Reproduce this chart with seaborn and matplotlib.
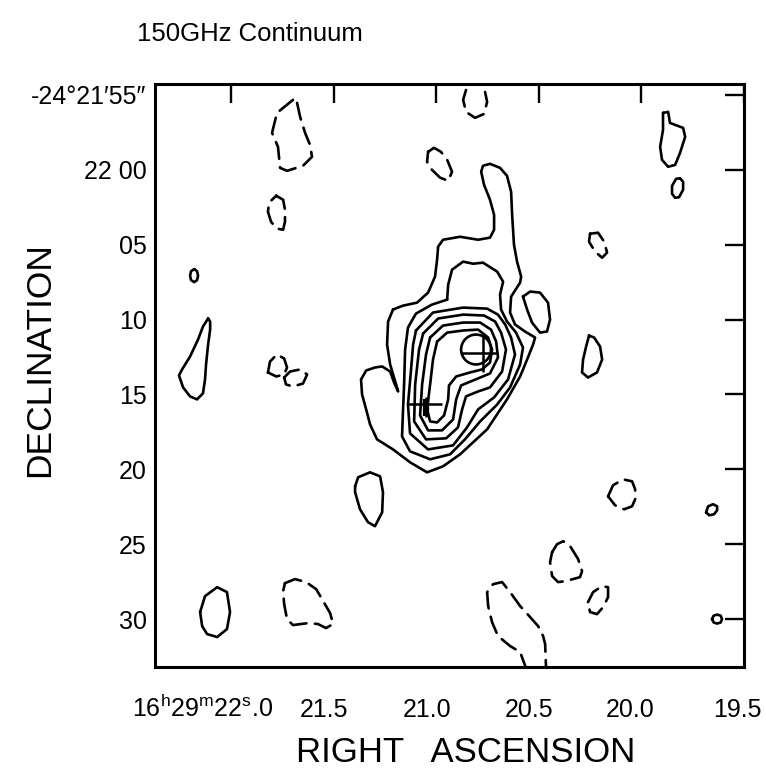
import matplotlib
matplotlib.use("Agg")
import matplotlib.pyplot as plt
from matplotlib.transforms import ScaledTranslation
import seaborn as sns

# ---------------- data (RA in seconds of 16h29m, Dec in arcsec of -24d21'/22') --------
# x tick values / labels
xtick_vals = [22.0, 21.5, 21.0, 20.5, 20.0, 19.5]
xtick_labels = [r"16$^{\mathrm{h}}$29$^{\mathrm{m}}$22$^{\mathrm{s}}$.0",
                "21.5", "21.0", "20.5", "20.0", "19.5"]
ytick_vals = [55, 60, 65, 70, 75, 80, 85, 90]
ytick_labels = ["-24°21′55″", "22 00", "05", "10", "15", "20", "25", "30"]

# central source, positive contour levels (outer -> inner)
L1_ra = [21.210, 21.234, 21.239, 21.224, 21.195, 21.185, 21.205, 21.224, 21.263, 21.298,
         21.341, 21.366, 21.361, 21.341, 21.322, 21.288, 21.210, 21.127, 21.044, 20.966,
         20.883, 20.751, 20.654, 20.590, 20.556, 20.527, 20.517, 20.566, 20.615, 20.639,
         20.634, 20.590, 20.585, 20.605, 20.620, 20.629, 20.634, 20.654, 20.688, 20.737,
         20.771, 20.780, 20.766, 20.737, 20.717, 20.717, 20.737, 20.795, 20.883, 20.966,
         20.990, 20.995, 21.005, 21.039, 21.093, 21.161, 21.210]
L1_dec = [69.33, 70.13, 71.67, 73.0, 74.33, 74.8, 74.2, 73.47, 73.13, 73.2,
          73.4, 74.0, 75.0, 76.0, 77.0, 78.0, 78.67, 79.53, 80.2, 79.8,
          79.0, 77.33, 75.33, 73.8, 72.67, 71.67, 71.2, 70.8, 70.33, 69.53,
          68.47, 67.53, 67.13, 66.13, 65.0, 63.0, 61.47, 60.4, 59.87, 59.6,
          59.73, 60.13, 61.0, 62.0, 63.0, 64.0, 64.53, 64.67, 64.47, 64.67,
          65.13, 66.0, 67.13, 68.2, 68.87, 69.07, 69.33]
L2_ra = [20.946, 20.941, 20.922, 20.868, 20.820, 20.771, 20.702, 20.673, 20.688, 20.683,
         20.654, 20.610, 20.576, 20.590, 20.639, 20.702, 20.785, 20.859, 20.932, 21.029,
         21.127, 21.166, 21.161, 21.156, 21.151, 21.137, 21.098, 21.020, 20.946]
L2_dec = [68.67, 67.67, 66.67, 66.13, 66.27, 66.2, 66.8, 67.47, 68.33, 69.33,
          70.13, 70.87, 71.87, 73.0, 74.53, 75.67, 76.8, 78.0, 79.0, 79.33,
          78.8, 77.8, 76.0, 74.33, 72.0, 70.53, 69.6, 69.0, 68.67]
L3_ra = [21.098, 21.015, 20.868, 20.751, 20.698, 20.663, 20.634, 20.615, 20.649, 20.717,
         20.795, 20.849, 20.917, 21.039, 21.127, 21.137, 21.122, 21.112, 21.098]
L3_dec = [70.73, 69.53, 69.2, 69.27, 69.67, 70.33, 71.2, 72.33, 74.0, 75.2,
          76.0, 77.2, 78.4, 78.67, 77.6, 75.67, 73.33, 71.67, 70.73]
L4_ra = [21.063, 20.990, 20.868, 20.766, 20.712, 20.683, 20.659, 20.678, 20.737, 20.795,
         20.854, 20.873, 20.893, 20.951, 21.049, 21.107, 21.102, 21.083, 21.063]
L4_dec = [70.93, 69.93, 69.67, 69.73, 70.13, 70.87, 72.0, 73.47, 74.53, 74.8,
          75.13, 76.0, 77.2, 77.93, 78.0, 76.8, 74.33, 72.0, 70.93]
L5_ra = [21.029, 20.966, 20.868, 20.785, 20.732, 20.707, 20.698, 20.737, 20.820, 20.878,
         20.902, 20.917, 20.971, 21.039, 21.078, 21.068, 21.049, 21.029]
L5_dec = [71.2, 70.4, 70.2, 70.2, 70.67, 71.47, 72.53, 73.6, 74.07, 74.4,
          75.33, 76.67, 77.4, 77.4, 76.4, 74.33, 72.33, 71.2]
L6_ra = [20.995, 20.946, 20.868, 20.795, 20.746, 20.727, 20.737, 20.776, 20.834, 20.902,
         20.937, 20.941, 20.961, 20.995, 21.029, 21.044, 21.029, 21.015, 20.995]
L6_dec = [71.47, 70.87, 70.73, 70.67, 71.2, 72.0, 72.87, 73.33, 73.53, 73.8,
          74.4, 75.33, 76.4, 76.87, 76.8, 76.0, 74.33, 72.67, 71.47]

# other positive (solid) contours
S1_ra = [22.180, 22.166, 22.161, 22.166, 22.180, 22.195, 22.200, 22.195, 22.180]
S1_dec = [66.63, 66.77, 67.07, 67.37, 67.5, 67.37, 67.07, 66.77, 66.63]
S2_ra = [22.112, 22.137, 22.161, 22.200, 22.239, 22.254, 22.234, 22.200, 22.166, 22.137,
         22.127, 22.122, 22.112, 22.102, 22.102, 22.112]
S2_dec = [69.93, 70.47, 71.33, 72.47, 73.33, 73.73, 74.53, 75.13, 75.33, 74.93,
          74.0, 73.0, 71.67, 70.67, 70.13, 69.93]
N_ra = [21.395, 21.380, 21.322, 21.273, 21.259, 21.263, 21.298, 21.332, 21.371, 21.395, 21.395]
N_dec = [81.13, 80.53, 80.2, 80.47, 81.53, 82.87, 83.8, 83.53, 82.67, 81.53, 81.13]
O_ra = [22.151, 22.127, 22.068, 22.020, 22.005, 22.020, 22.068, 22.117, 22.141, 22.151]
O_dec = [89.53, 88.47, 87.87, 88.2, 89.53, 90.67, 91.2, 91.0, 90.47, 89.53]
F_ra = [19.893, 19.868, 19.859, 19.795, 19.785, 19.810, 19.834, 19.868, 19.898, 19.907, 19.893, 19.893]
F_dec = [56.2, 56.13, 56.87, 57.2, 57.8, 58.87, 59.67, 59.8, 59.33, 58.47, 57.33, 56.2]
G_ra = [19.810, 19.795, 19.795, 19.815, 19.834, 19.849, 19.849, 19.829, 19.810]
G_dec = [60.57, 60.8, 61.33, 61.83, 61.87, 61.6, 61.07, 60.6, 60.57]
C_ra = [20.576, 20.541, 20.493, 20.454, 20.444, 20.459, 20.493, 20.532, 20.556, 20.576]
C_dec = [68.47, 68.13, 68.2, 68.87, 70.0, 70.8, 70.87, 70.2, 69.33, 68.47]
E_ra = [20.254, 20.229, 20.200, 20.190, 20.215, 20.259, 20.288, 20.283, 20.268, 20.254]
E_dec = [71.07, 71.2, 71.8, 72.67, 73.53, 73.87, 73.53, 72.67, 71.8, 71.07]
S3_ra = [19.683, 19.673, 19.649, 19.629, 19.629, 19.644, 19.668, 19.683]
S3_dec = [82.87, 82.47, 82.33, 82.47, 82.73, 83.0, 83.07, 82.87]
S4_ra = [19.654, 19.646, 19.629, 19.612, 19.605, 19.612, 19.629, 19.646, 19.654]
S4_dec = [90.0, 89.77, 89.7, 89.77, 90.0, 90.23, 90.3, 90.23, 90.0]

# negative (dashed) contours
A_ra = [21.698, 21.776, 21.800, 21.771, 21.761, 21.727, 21.649, 21.605, 21.615, 21.639, 21.663, 21.678, 21.698]
A_dec = [55.33, 56.2, 57.53, 58.47, 59.87, 60.07, 59.73, 59.13, 58.33, 57.53, 56.47, 55.53, 55.33]
B_ra = [21.780, 21.746, 21.737, 21.737, 21.746, 21.776, 21.805, 21.820, 21.815, 21.780]
B_dec = [61.73, 62.0, 62.67, 63.47, 64.0, 63.93, 63.47, 62.8, 62.2, 61.73]
Ha_ra = [21.820, 21.810, 21.776, 21.741, 21.727, 21.741, 21.780, 21.820]
Ha_dec = [73.53, 72.8, 72.33, 72.6, 73.2, 73.67, 73.8, 73.53]
Hb_ra = [21.741, 21.712, 21.663, 21.629, 21.649, 21.698, 21.732, 21.741]
Hb_dec = [73.87, 73.47, 73.33, 73.67, 74.27, 74.47, 74.33, 73.87]
P_ra = [21.737, 21.688, 21.634, 21.585, 21.556, 21.517, 21.502, 21.537, 21.576, 21.624, 21.698, 21.727, 21.741, 21.746, 21.737]
P_dec = [87.6, 87.33, 87.53, 88.0, 88.67, 89.6, 90.33, 90.6, 90.33, 90.27, 90.4, 90.0, 89.0, 88.13, 87.6]
U_ra = [20.854, 20.868, 20.854, 20.810, 20.766, 20.751, 20.761]
U_dec = [54.67, 55.33, 56.13, 56.53, 56.27, 55.47, 54.8]
D_ra = [21.039, 21.010, 20.976, 20.946, 20.922, 20.941, 20.980, 21.020, 21.044, 21.039]
D_dec = [58.8, 58.53, 58.8, 59.33, 60.13, 60.73, 60.53, 60.0, 59.47, 58.8]
Hc_ra = [20.249, 20.210, 20.180, 20.166, 20.190, 20.224, 20.254, 20.249]
Hc_dec = [64.27, 64.2, 64.8, 65.53, 65.87, 65.47, 64.8, 64.27]
I_ra = [20.161, 20.137, 20.088, 20.044, 20.029, 20.029, 20.044, 20.083, 20.127, 20.161]
I_dec = [81.8, 81.07, 80.67, 80.8, 81.33, 82.0, 82.47, 82.67, 82.4, 81.8]
J_ra = [20.434, 20.410, 20.380, 20.346, 20.307, 20.288, 20.298, 20.332, 20.371, 20.405, 20.434, 20.444, 20.434]
J_dec = [85.53, 85.0, 84.8, 85.13, 86.0, 86.8, 87.2, 87.33, 87.47, 87.53, 87.13, 86.2, 85.53]
K_ra = [20.259, 20.234, 20.190, 20.161, 20.161, 20.185, 20.215, 20.249, 20.259]
K_dec = [88.87, 88.2, 87.8, 87.87, 88.53, 89.2, 89.67, 89.53, 88.87]
Lb_ra = [20.556, 20.590, 20.639, 20.698, 20.727, 20.746, 20.751, 20.722, 20.678, 20.639, 20.590, 20.541, 20.502, 20.478, 20.468, 20.463]
Lb_dec = [93.47, 92.2, 91.8, 91.13, 90.2, 89.13, 88.2, 87.67, 87.53, 88.2, 89.13, 89.87, 90.47, 91.13, 91.67, 93.47]

# marked positions: crosses and circle
cross_ra = [20.771, 21.049]
cross_dec = [72.2, 75.67]
circle_ra = [20.805]
circle_dec = [72.0]

# ---------------- figure ----------------
sns.set_style("white")
plt.rcParams['font.family'] = ['Liberation Sans', 'DejaVu Sans']
plt.rcParams['mathtext.fontset'] = 'custom'
plt.rcParams['mathtext.rm'] = 'Liberation Sans'
plt.rcParams['mathtext.it'] = 'Liberation Sans'
plt.rcParams['text.color'] = 'black'
plt.rcParams['xtick.color'] = 'black'
plt.rcParams['ytick.color'] = 'black'
plt.rcParams['axes.labelcolor'] = 'black'

W, H = 766, 775
fig = plt.figure(figsize=(W / 100, H / 100), dpi=100)
ax = fig.add_axes([155 / W, 1 - 667 / H, (744 - 155) / W, (667 - 84) / H])

LW = 1.9
solid = [(L1_ra, L1_dec), (L2_ra, L2_dec), (L3_ra, L3_dec), (L4_ra, L4_dec),
         (L5_ra, L5_dec), (L6_ra, L6_dec), (S1_ra, S1_dec), (S2_ra, S2_dec),
         (N_ra, N_dec), (O_ra, O_dec), (F_ra, F_dec), (G_ra, G_dec), (C_ra, C_dec),
         (E_ra, E_dec), (S3_ra, S3_dec), (S4_ra, S4_dec)]
dashed = [(A_ra, A_dec), (B_ra, B_dec), (Ha_ra, Ha_dec), (Hb_ra, Hb_dec),
          (P_ra, P_dec), (U_ra, U_dec), (D_ra, D_dec), (Hc_ra, Hc_dec),
          (I_ra, I_dec), (J_ra, J_dec), (K_ra, K_dec), (Lb_ra, Lb_dec)]

for ra, dec in solid:
    sns.lineplot(x=ra, y=dec, sort=False, estimator=None, color="black",
                 linewidth=LW, ax=ax, solid_joinstyle="round")
for ra, dec in dashed:
    sns.lineplot(x=ra, y=dec, sort=False, estimator=None, color="black",
                 linewidth=LW, ax=ax, linestyle=(0, (6.5, 3.2)), dash_capstyle="round")

# crosses (arm lengths in data units)
arms = [(0.102, 0.073, 1.07, 1.27), (0.093, 0.078, 0.5, 0.85)]
for (cx, cy), (al, ar, au, ad) in zip(zip(cross_ra, cross_dec), arms):
    ax.plot([cx + al, cx - ar], [cy, cy], color="black", lw=1.8, solid_capstyle="butt")
    ax.plot([cx, cx], [cy - au, cy + ad], color="black", lw=1.8, solid_capstyle="butt")
# thick bar of the southern cross
ax.plot([cross_ra[1], cross_ra[1]], [cross_dec[1] - 0.35, cross_dec[1] + 0.8],
        color="black", lw=4.5, solid_capstyle="butt")
sns.scatterplot(x=circle_ra, y=circle_dec, marker="o", s=21.5 ** 2,
                facecolor="none", edgecolor="black", linewidth=LW, ax=ax, zorder=5)

ax.set_xlim(22.371, 19.498)
ax.set_ylim(93.2, 54.27)
ax.set_xlabel("")
ax.set_ylabel("")

ax.set_xticks(xtick_vals)
ax.set_xticklabels(xtick_labels)
ax.set_yticks(ytick_vals)
ax.set_yticklabels(ytick_labels)
ax.tick_params(axis="both", direction="in", length=14, width=1.7, colors="black",
               top=True, right=True, labelsize=18)
ax.tick_params(axis="x", pad=36)
ax.tick_params(axis="y", pad=6)
for sp in ax.spines.values():
    sp.set_visible(True)
    sp.set_linewidth(2.2)
    sp.set_color("black")

offs = [42, -10, -9, -10, -11, -6]
for lbl, dx in zip(ax.get_xticklabels(), offs):
    lbl.set_va("baseline")
    if dx > 20:
        lbl.set_ha("right")
    lbl.set_transform(lbl.get_transform() + ScaledTranslation(dx / 100, 0, fig.dpi_scale_trans))

fig.text(250 / W, 1 - 34 / H, "150GHz Continuum", ha="center", va="center", fontsize=18.5)
fig.text(466 / W, 1 - 752 / H, "RIGHT   ASCENSION", ha="center", va="center", fontsize=25)
fig.text(40 / W, 1 - 360 / H, "DECLINATION", ha="center", va="center", rotation=90, fontsize=25.5)

fig.savefig("out.png", dpi=100, facecolor="white")
